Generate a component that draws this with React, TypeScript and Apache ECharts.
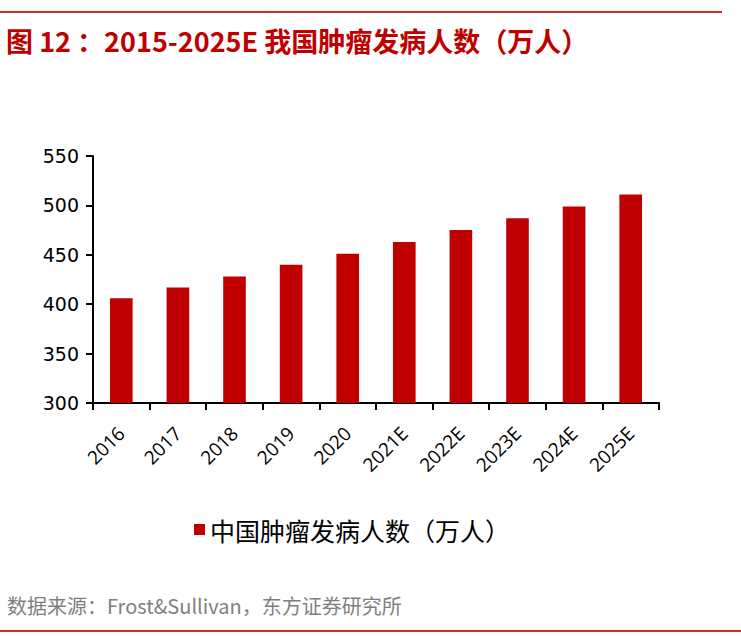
import React, { useEffect, useRef } from "react";
import * as echarts from "echarts";

const categories = ["2016", "2017", "2018", "2019", "2020", "2021E", "2022E", "2023E", "2024E", "2025E"];
const incidence = [406, 417, 428, 440, 451, 463, 475, 487, 499, 511];
const seriesName = "中国肿瘤发病人数（万人）";
const titleText = "图 12 ：2015-2025E 我国肿瘤发病人数（万人）";
const sourceText = "数据来源：Frost&Sullivan，东方证券研究所";

export default function App() {
  const ref = useRef<HTMLDivElement>(null);
  useEffect(() => {
    if (!ref.current) return;
    const chart = echarts.init(ref.current, null, { renderer: "svg" });
    chart.setOption({
      animation: false,
      backgroundColor: "#ffffff",
      title: {
        text: titleText,
        left: 1,
        top: 22,
        textStyle: {
          color: "#c00000",
          fontSize: 27,
          fontWeight: "bold",
          fontFamily: "'Noto Sans CJK SC', 'Noto Sans', sans-serif",
        },
      },
      legend: {
        data: [seriesName],
        top: 512,
        left: 189,
        icon: "rect",
        itemWidth: 11,
        itemHeight: 11,
        itemGap: 8,
        textStyle: {
          color: "#000",
          fontSize: 25,
          fontFamily: "'Noto Sans CJK SC', sans-serif",
        },
      },
      grid: { left: 93, right: 82, top: 156, bottom: 233, containLabel: false },
      xAxis: {
        type: "category",
        data: categories,
        boundaryGap: true,
        axisLine: { show: true, lineStyle: { color: "#000", width: 2 } },
        axisTick: { show: true, length: 7, alignWithLabel: false, lineStyle: { color: "#000", width: 2 } },
        axisLabel: {
          rotate: 45,
          color: "#000",
          fontSize: 19,
          margin: 27,
          interval: 0,
          fontFamily: "'Open Sans', 'Liberation Sans', sans-serif",
        },
      },
      yAxis: {
        type: "value",
        min: 300,
        max: 550,
        interval: 50,
        splitLine: { show: false },
        axisLine: { show: true, lineStyle: { color: "#000", width: 2 } },
        axisTick: { show: true, length: 7, lineStyle: { color: "#000", width: 2 } },
        axisLabel: {
          color: "#000",
          fontSize: 19,
          margin: 14,
          fontFamily: "'DejaVu Sans', sans-serif",
        },
      },
      series: [
        {
          name: seriesName,
          type: "bar",
          data: incidence,
          barWidth: "40%",
          itemStyle: { color: "#c00000" },
        },
      ],
      graphic: [
        {
          type: "line",
          shape: { x1: 0, y1: 12, x2: 722, y2: 12 },
          style: { stroke: "#d42a2a", lineWidth: 2 },
        },
        {
          type: "text",
          left: 7,
          top: 595,
          style: {
            text: sourceText,
            fill: "#7f7f7f",
            fontSize: 20,
            fontFamily: "'Noto Sans CJK SC', sans-serif",
          },
        },
        {
          type: "line",
          shape: { x1: 0, y1: 631, x2: 741, y2: 631 },
          style: { stroke: "#d42a2a", lineWidth: 2 },
        },
      ],
    });
    return () => chart.dispose();
  }, []);
  return <div ref={ref} style={{ width: 741, height: 636, position: "absolute", left: 0, top: 0 }} />;
}
